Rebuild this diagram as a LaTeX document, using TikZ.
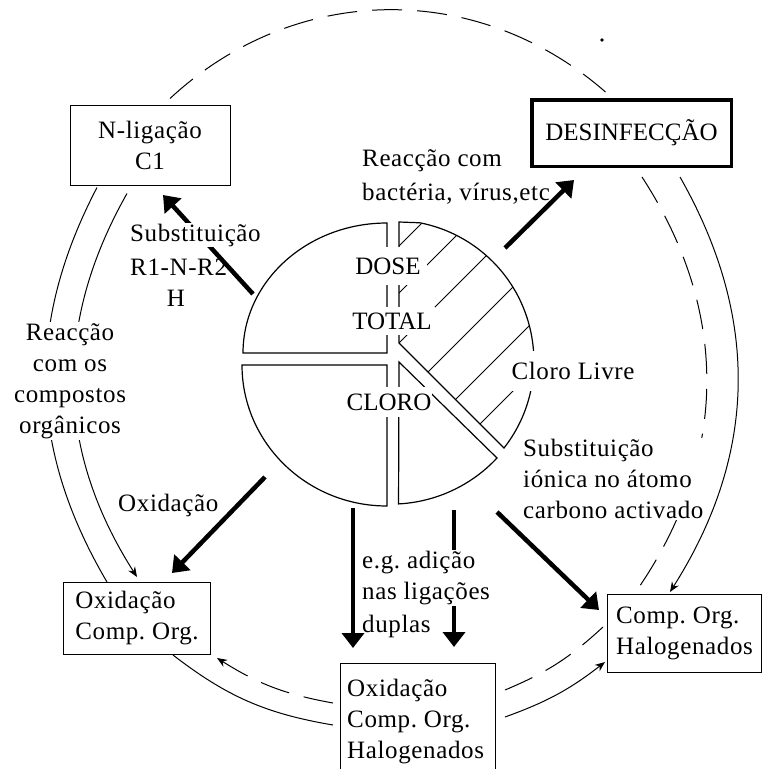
\documentclass[tikz,border=0pt]{standalone}
\usepackage{fontspec}
\setmainfont{Liberation Serif}[LetterSpace=2.5]
\newfontfamily\capsfont{Liberation Serif}
\frenchspacing
\usetikzlibrary{arrows.meta}

\tikzset{
  box/.style={draw, line width=1pt, inner sep=2pt},
  lbl/.style={inner sep=1pt},
  mask/.style={fill=white, inner sep=1pt},
  caps/.style={font=\fontsize{25}{31}\capsfont},
  piece/.style={line width=1.2pt},
  hatch/.style={line width=1pt},
  fat/.style={line width=4.5pt, -{Triangle[length=15pt,width=22pt]}},
  thin/.style={line width=1pt},
  tip/.style={-{Stealth[length=10pt,width=8pt]}},
  longdash/.style={line width=1pt, dash pattern=on 30pt off 15pt}
}

\begin{document}
\begin{tikzpicture}[x=1pt, y=-1pt, font=\fontsize{25}{31}\selectfont]
  \clip (0,0) rectangle (764,769);

  % boxes
  \node (nlig) [box, align=center, minimum width=160, minimum height=80] at (150,145) {N-ligação\\C1};
  \node (desinf) [box, caps, line width=3.5pt, minimum width=199.5, minimum height=66.5] at (631.5,133) {DESINFECÇÃO};
  \node (oxbox) [box, align=left, minimum width=147, minimum height=72] at (137,618.5) {Oxidação\\Comp. Org.};
  \node (cohbox) [box, align=left, minimum width=154, minimum height=78] at (684.5,633.5) {Comp. Org.\\Halogenados};
  \node (halbox) [box, anchor=north west, minimum width=155, minimum height=140] at (340,663) {};
  \node (haltxt) [anchor=north west, align=left, inner sep=0pt] at (347,679) {Oxidação\\Comp. Org.\\Halogenados};

  % pie
  \draw[piece] (387,223) -- (387,353) -- (243,353) arc[start angle=180, end angle=270, x radius=144, y radius=130] -- cycle;
  \draw[piece] (387,365) -- (242,365) arc[start angle=180, end angle=90, x radius=145, y radius=141] -- cycle;
  \draw[piece] (399,362) -- (497,458) arc[start angle=43, end angle=87, radius=145] -- cycle;
  \begin{scope}
    \clip (399,222) -- (399,343) -- (504,448) arc[start angle=38, end angle=-79, radius=141] -- cycle;
    \foreach \c in {645,692,742,800,855,904}
      \draw[hatch] (380,\c-380) -- (560,\c-560);
  \end{scope}
  \draw[piece] (399,222) -- (399,343) -- (504,448) arc[start angle=38, end angle=-79, radius=141] -- cycle;

  % thick arrows
  \coordinate (subA) at (253,294);  \coordinate (subB) at (163,195);
  \coordinate (desA) at (505,248);  \coordinate (desB) at (574,180);
  \coordinate (oxA) at (265,477);   \coordinate (oxB) at (172,573);
  \coordinate (addA) at (353,508);  \coordinate (addB) at (353,648);
  \coordinate (dupA) at (454,510);  \coordinate (dupB) at (454,647);
  \coordinate (ionA) at (497,512);  \coordinate (ionB) at (599,610);
  \draw[fat] (subA) -- (subB);
  \draw[fat] (desA) -- (desB);
  \draw[fat] (oxA) -- (oxB);
  \draw[fat] (addA) -- (addB);
  \draw[fat] (dupA) -- (dupB);
  \draw[fat] (ionA) -- (ionB);

  % outer cycle
  \draw[longdash] ([xshift=20pt,yshift=6pt]nlig.north) to[bend left=42] ([xshift=-26pt,yshift=6pt]desinf.north);
  \draw[longdash] ([xshift=10.5pt,yshift=-9pt]desinf.south) to[bend left=34] ([xshift=-49.5pt,yshift=1pt]cohbox.north);
  \draw[thin, tip] ([xshift=48.5pt,yshift=-9pt]desinf.south) to[bend left=31] ([xshift=-14.5pt,yshift=2pt]cohbox.north);
  \draw[thin] ([xshift=-53pt,yshift=-2pt]nlig.south) to[bend right=29] ([xshift=-30pt]oxbox.north);
  \draw[thin, tip] ([xshift=-23pt,yshift=-8pt]nlig.south) to[bend right=31] ([yshift=5pt]oxbox.north);
  \draw[thin] ([xshift=36pt]oxbox.south) to[bend right=14] ([xshift=-7pt,yshift=-62pt]halbox.north west);
  \draw[thin, tip] ([xshift=165pt,yshift=-54pt]halbox.north west) to[bend right=9] ([xshift=-2pt,yshift=-28.5pt]cohbox.west);
  \draw[longdash, tip] ([xshift=-7pt,yshift=-40pt]halbox.north west) to[bend left=11] ([xshift=6pt,yshift=-3pt]oxbox.south east);
  \draw[longdash] ([xshift=165pt,yshift=-27pt]halbox.north west) to[bend right=10] ([xshift=-4pt,yshift=6.5pt]cohbox.west);
  \fill (602,40) circle[radius=1.8];

  % labels
  \node (dose) [mask, caps, inner xsep=6pt, minimum height=38] at (388,266) {DOSE};
  \node (total) [mask, caps, inner xsep=3pt, minimum height=28] at (392,321) {TOTAL};
  \node (cloro) [mask, caps, minimum height=30] at (389,402) {CLORO};
  \node (livre) [mask, minimum height=40] at (573,371) {Cloro Livre};
  \node (bact) [lbl, align=left, anchor=west] at (361,177) {Reacção com\\[3pt]bactéria, vírus,etc};
  \node (subst) [mask, anchor=west] at (129,235) {Substituição};
  \node (rnr) [lbl, anchor=west] at (129,267) {R1-N-R2};
  \node (hatom) [lbl] at (176,298) {H};
  \node (reac) [mask, align=center] at (70,381) {Reacção\\com os\\compostos\\orgânicos};
  \node (oxlbl) [lbl, anchor=west] at (117,505) {Oxidação};
  \node (eg) [mask, align=left, anchor=west] at (361,578) {e.g. adição\\nas ligações};
  \node (dup) [lbl, anchor=west] at (361,626) {duplas};
  \node (ion) [mask, align=left, anchor=west] at (522,479) {Substituição\\iónica no átomo\\carbono activado};
\end{tikzpicture}
\end{document}
